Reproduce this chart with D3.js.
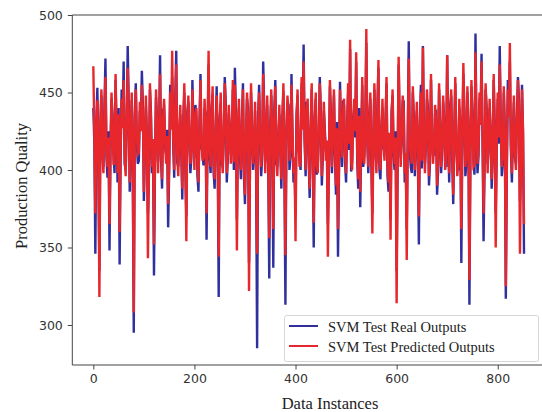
<!DOCTYPE html>
<html>
<head>
<meta charset="utf-8">
<script src="https://cdn.jsdelivr.net/npm/d3@7"></script>
<style>
  body { margin: 0; background: #fff }
  .tick text { font-family: "DejaVu Sans", sans-serif; font-size: 12.5px; fill: #333 }
  .label { font-family: "Liberation Serif", "Times New Roman", serif; font-size: 16.5px; fill: #222 }
  .legend_text { font-family: "Liberation Serif", "Times New Roman", serif; font-size: 14.5px; fill: #222 }
</style>
</head>
<body>
<div id="chart"></div>
<script>
// and "mid" arrays hold instances 2,6,10,... in between them
var instance_step = 2

var real_peaks = [
  440, 346, 453, 335, 448, 402, 472, 395, 348, 446,
  410, 458, 392, 339, 452, 470, 400, 480, 386, 445,
  295, 456, 404, 438, 464, 380, 441, 372, 452, 398,
  332, 447, 405, 474, 388, 440, 410, 363, 455, 460,
  395, 477, 402, 436, 381, 450, 370, 444, 398, 458,
  408, 432, 386, 462, 412, 440, 355, 468, 398, 449,
  388, 454, 318, 443, 402, 460, 392, 437, 410, 452,
  466, 368, 440, 394, 456, 378, 446, 340, 450, 400,
  438, 285, 455, 396, 470, 405, 442, 330, 448, 337,
  458, 402, 436, 388, 451, 313, 444, 400, 462, 392,
  372, 448, 408, 456, 481, 396, 440, 382, 452, 350,
  446, 404, 460, 390, 438, 412, 365, 454, 398, 448,
  384, 344, 457, 402, 442, 392, 450, 478, 406, 440,
  470, 388, 376, 455, 410, 482, 398, 446, 372, 452,
  404, 466, 394, 440, 412, 456, 386, 368, 448, 400,
  335, 468, 408, 444, 392, 362, 483, 402, 450, 396,
  438, 352, 455, 480, 404, 446, 390, 458, 410, 436,
  384, 452, 398, 444, 406, 474, 392, 448, 378, 456,
  402, 440, 340, 462, 396, 450, 313, 454, 408, 488,
  398, 446, 475, 354, 452, 404, 440, 388, 458, 372,
  446, 480, 396, 450, 317, 458, 470, 392, 444, 404,
  460, 380, 455, 346
]

var real_mids = [
  418, 432, 401, 428, 415, 441, 408, 425, 412, 436,
  398, 422, 440, 409, 431, 404, 427, 444, 413, 400,
  435, 419, 406, 429, 442, 411, 424, 397, 437, 416,
  403, 433, 420, 407, 439, 414, 426, 399, 430, 417,
  445, 405, 423, 410, 434, 401, 438, 419, 408, 427,
  442, 396, 431, 414, 403, 436, 421, 409, 440, 398,
  425, 412, 433, 404, 419, 443, 407, 428, 415, 400,
  437, 422, 410, 431, 396, 418, 440, 405, 426, 413,
  399, 434, 420, 408, 441, 415, 402, 429, 417, 438,
  404, 423, 411, 435, 398, 427, 442, 409, 421, 403,
  436, 414, 400, 430, 418, 444, 406, 425, 412, 433,
  397, 420, 439, 408, 426, 415, 401, 437, 422, 410,
  431, 398, 419, 443, 405, 428, 413, 399, 434, 421,
  407, 440, 416, 402, 429, 418, 436, 404, 424, 411,
  441, 400, 427, 414, 433, 396, 420, 438, 409, 425,
  403, 432, 417, 444, 406, 423, 412, 398, 435, 419,
  408, 430, 401, 426, 415, 440, 405, 422, 410, 437,
  399, 428, 413, 434, 402, 419, 442, 407, 424, 416,
  400, 431, 420, 439, 404, 427, 411, 436, 397, 421,
  409, 433, 418, 403, 441, 414, 426, 406, 430, 412,
  417, 432, 405, 428, 399, 438, 414, 424, 408, 435,
  445, 401, 423
]

var predicted_peaks = [
  467, 372, 445, 318, 452, 398, 460, 402, 365, 450,
  404, 462, 398, 360, 446, 458, 396, 466, 392, 450,
  308, 452, 410, 444, 455, 386, 448, 343, 456, 402,
  352, 452, 398, 462, 394, 446, 404, 378, 450, 477,
  400, 468, 396, 442, 388, 456, 354, 448, 404, 452,
  400, 440, 392, 458, 406, 446, 372, 477, 402, 454,
  394, 448, 344, 450, 398, 456, 398, 442, 404, 458,
  455, 348, 446, 400, 452, 384, 450, 322, 456, 404,
  444, 346, 450, 402, 462, 398, 448, 356, 452, 362,
  454, 396, 442, 394, 456, 345, 448, 406, 455, 398,
  354, 452, 402, 460, 470, 400, 446, 388, 456, 366,
  450, 398, 456, 396, 444, 406, 344, 458, 402, 452,
  390, 362, 452, 408, 446, 398, 456, 484, 400, 446,
  476, 394, 386, 460, 404, 491, 402, 450, 359, 456,
  398, 471, 400, 446, 406, 460, 392, 355, 452, 404,
  314, 473, 402, 448, 398, 342, 472, 408, 454, 400,
  444, 370, 450, 479, 398, 452, 396, 462, 404, 442,
  390, 456, 402, 448, 400, 474, 398, 452, 384, 460,
  396, 446, 362, 469, 402, 454, 329, 458, 402, 476,
  404, 450, 470, 372, 456, 398, 446, 394, 462, 350,
  450, 468, 402, 454, 325, 452, 482, 398, 448, 400,
  458, 346, 452, 365
]

var predicted_mids = [
  424, 428, 406, 432, 410, 437, 413, 421, 418, 431,
  404, 426, 436, 414, 427, 409, 431, 439, 417, 405,
  430, 423, 411, 425, 437, 416, 420, 403, 432, 420,
  408, 429, 424, 412, 434, 418, 422, 404, 426, 421,
  440, 410, 427, 414, 430, 406, 433, 423, 413, 423,
  437, 402, 427, 418, 408, 431, 425, 413, 435, 404,
  421, 416, 429, 409, 423, 438, 412, 424, 419, 405,
  432, 426, 414, 427, 402, 422, 435, 410, 422, 417,
  405, 430, 424, 412, 436, 419, 407, 425, 421, 433,
  409, 419, 415, 430, 404, 423, 437, 413, 425, 408,
  431, 418, 405, 426, 422, 439, 411, 421, 416, 429,
  403, 424, 434, 413, 422, 419, 406, 432, 426, 414,
  427, 404, 423, 438, 410, 424, 417, 405, 430, 425,
  412, 435, 420, 407, 425, 422, 431, 409, 420, 415,
  436, 406, 423, 418, 429, 402, 424, 433, 414, 421,
  408, 428, 421, 439, 411, 419, 416, 404, 430, 423,
  413, 426, 406, 422, 419, 435, 410, 418, 414, 432,
  405, 424, 417, 430, 407, 423, 437, 412, 420, 420,
  405, 427, 424, 434, 409, 423, 415, 431, 403, 425,
  414, 429, 422, 408, 436, 418, 422, 411, 426, 416,
  421, 428, 409, 425, 404, 434, 418, 420, 412, 431,
  440, 406, 427
]

var x_ticks = [0, 200, 400, 600, 800]
var y_ticks = [300, 350, 400, 450, 500]

var series_names = ["SVM Test Real Outputs", "SVM Test Predicted Outputs"]
var series_colors = ["#2f2f9e", "#e7272b"]

var interleave = function interleave(peaks, mids) {
  var out = []
  peaks.forEach(function (v, k) {
    out.push(v)
    if (k < mids.length) out.push(mids[k])
  })
  return out
}

var real_outputs = interleave(real_peaks, real_mids)
var predicted_outputs = interleave(predicted_peaks, predicted_mids)

var width = 542, height = 412
var plot = { "left": 72.3, "top": 15, "bottom": 365 }

var svg = d3.select("#chart").append("svg")
  .attr("width", width)
  .attr("height", height)

var x = d3.scaleLinear()
  .domain([-41.6, 894.6])
  .range([plot.left, plot.left + 936.2 * 0.5055])

var y = d3.scaleLinear()
  .domain([274.2, 500])
  .range([plot.bottom, plot.top])

var line = d3.line()
  .x(function (d, i) { return x(i * instance_step) })
  .y(function (d) { return y(d) })

var lines_g = svg.append("g")
  .attr("class", "lines")

;[real_outputs, predicted_outputs].forEach(function (series, s) {
  lines_g.append("path")
    .datum(series)
    .attr("fill", "none")
    .attr("stroke", series_colors[s])
    .attr("stroke-width", 2.4)
    .attr("d", line)
})

// frame: left, bottom and top spines (right side falls outside the picture)
var frame_color = "#444"
svg.append("line")
  .attr("x1", plot.left).attr("x2", plot.left)
  .attr("y1", plot.top).attr("y2", plot.bottom)
  .attr("stroke", frame_color)
svg.append("line")
  .attr("x1", plot.left).attr("x2", width)
  .attr("y1", plot.top).attr("y2", plot.top)
  .attr("stroke", frame_color)

var x_axis = svg.append("g")
  .attr("transform", "translate(0," + plot.bottom + ")")
  .call(d3.axisBottom(x).tickValues(x_ticks).tickSize(4.5).tickPadding(5).tickSizeOuter(0))
x_axis.select(".domain").attr("stroke", frame_color).attr("d", "M" + plot.left + ",0H" + width)
x_axis.selectAll(".tick line").attr("stroke", frame_color)

var y_axis = svg.append("g")
  .attr("transform", "translate(" + plot.left + ",0)")
  .call(d3.axisLeft(y).tickValues(y_ticks).tickSize(4.5).tickPadding(5).tickSizeOuter(0))
y_axis.select(".domain").remove()
y_axis.selectAll(".tick line").attr("stroke", frame_color)

svg.append("text")
  .attr("class", "label")
  .attr("x", 330)
  .attr("y", 409)
  .attr("text-anchor", "middle")
  .text("Data Instances")

svg.append("text")
  .attr("class", "label")
  .attr("transform", "translate(27,186) rotate(-90)")
  .attr("text-anchor", "middle")
  .text("Production Quality")

// legend
var legend = svg.append("g")
  .attr("class", "legend")
legend.append("rect")
  .attr("x", 284.5)
  .attr("y", 315.5)
  .attr("width", 254)
  .attr("height", 46)
  .attr("rx", 2)
  .attr("fill", "#fff")
  .attr("fill-opacity", 0.85)
  .attr("stroke", "#d6d6d6")

series_names.forEach(function (name, s) {
  var ly = 326 + s * 20
  legend.append("line")
    .attr("x1", 289).attr("x2", 318)
    .attr("y1", ly).attr("y2", ly)
    .attr("stroke", series_colors[s])
    .attr("stroke-width", 2)
  legend.append("text")
    .attr("class", "legend_text")
    .attr("x", 328)
    .attr("y", ly + 5.5)
    .text(name)
})
</script>
</body>
</html>
